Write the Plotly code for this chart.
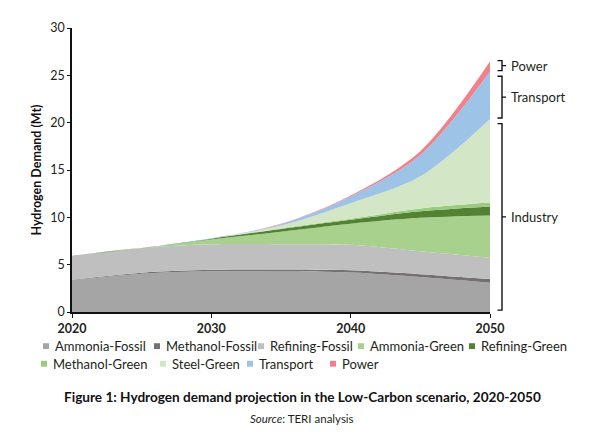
import plotly.graph_objects as go

# ---------------- data ----------------
years = [2020, 2025, 2030, 2035, 2040, 2045, 2050]
ammonia_fossil = [3.35, 4.05, 4.30, 4.28, 4.18, 3.70, 3.10]
methanol_fossil = [0.05, 0.10, 0.15, 0.20, 0.22, 0.30, 0.38]
refining_fossil = [2.55, 2.60, 2.70, 2.68, 2.70, 2.42, 2.25]
ammonia_green = [0.00, 0.00, 0.50, 1.32, 2.23, 3.53, 4.47]
refining_green = [0.00, 0.00, 0.10, 0.30, 0.42, 0.69, 0.95]
methanol_green = [0.00, 0.00, 0.00, 0.05, 0.10, 0.30, 0.41]
steel_green = [0.00, 0.00, 0.00, 0.30, 1.65, 3.40, 8.84]
transport = [0.00, 0.00, 0.03, 0.15, 0.70, 2.25, 5.00]
power = [0.00, 0.00, 0.00, 0.03, 0.10, 0.40, 1.05]

series_names = ["Ammonia-Fossil", "Methanol-Fossil", "Refining-Fossil", "Ammonia-Green",
                "Refining-Green", "Methanol-Green", "Steel-Green", "Transport", "Power"]
series_values = [ammonia_fossil, methanol_fossil, refining_fossil, ammonia_green,
                 refining_green, methanol_green, steel_green, transport, power]
series_colors = ["#A5A5A5", "#767171", "#BFBFBF", "#A9D18E", "#548235",
                 "#9ACB7E", "#D3E6C6", "#9DC3E6", "#F1808A"]

x_ticks = [2020, 2030, 2040, 2050]
y_ticks = [0, 5, 10, 15, 20, 25, 30]

bracket_labels = ["Power", "Transport", "Industry"]

FONT = "Lato, 'Open Sans', sans-serif"
TXT = "#231F20"

# ---------------- layout geometry ----------------
# the page body has an 8px margin, so the figure starts at (8, 8) in the window
OFF = 8
W, H = 600 - OFF, 437 - OFF
ML, MR, MT, MB = 72 - OFF, 110, 21 - OFF, 125
PW = W - ML - MR
PH = H - MT - MB
YMAX = 30


def px2x(px):
    """window pixel x -> paper x"""
    return (px - OFF - ML) / PW


def py2y(py):
    """window pixel y -> paper y"""
    return (H - MB - (py - OFF)) / PH


fig = go.Figure()
for name, vals, col in zip(series_names, series_values, series_colors):
    fig.add_trace(go.Scatter(
        x=years, y=vals, name=name, stackgroup="one", mode="lines",
        line=dict(width=0, shape="spline", smoothing=0.9, color=col),
        fillcolor=col, showlegend=False, hoverinfo="x+y+name"))

shapes = []
annotations = []

# ---------------- brackets on the right ----------------
industry_top = sum(v[-1] for v in series_values[:7])
transport_top = industry_top + transport[-1]
power_top = transport_top + power[-1]
ranges = [(transport_top + 0.1, power_top + 0.1),
          (industry_top + 0.1, transport_top - 0.5),
          (0.2, industry_top - 0.5)]
xl, xv, xr = px2x(497.5), px2x(502), px2x(506)
for label, (lo, hi) in zip(bracket_labels, ranges):
    y0, y1 = lo / YMAX, hi / YMAX
    ym = (y0 + y1) / 2
    path = (f"M {xl},{y1} L {xv},{y1} L {xv},{y0} L {xl},{y0} "
            f"M {xv},{ym} L {xr},{ym}")
    shapes.append(dict(type="path", path=path, xref="paper", yref="paper",
                       line=dict(color="#111111", width=1.4)))
    annotations.append(dict(text=label, x=px2x(509), y=ym, xref="paper", yref="paper",
                            xanchor="left", yanchor="middle", showarrow=False,
                            font=dict(family=FONT, size=13, color=TXT)))

# ---------------- legend (two rows) ----------------
legend_pos = [(46, 347), (157, 347), (261, 347), (361, 347), (472, 347),
              (44, 365), (163, 365), (250, 365), (333, 365)]
for name, col, (mx, my) in zip(series_names, series_colors, legend_pos):
    shapes.append(dict(type="rect", xref="paper", yref="paper",
                       x0=px2x(mx - 3), x1=px2x(mx + 3), y0=py2y(my + 3), y1=py2y(my - 3),
                       fillcolor=col, line=dict(width=0)))
    annotations.append(dict(text=name, x=px2x(mx + 7), y=py2y(my), xref="paper", yref="paper",
                            xanchor="left", yanchor="middle", showarrow=False,
                            font=dict(family=FONT, size=13, color=TXT)))

# ---------------- caption ----------------
annotations.append(dict(text="<b>Figure 1: Hydrogen demand projection in the Low-Carbon scenario, 2020-2050</b>",
                        x=px2x(302), y=py2y(399), xref="paper", yref="paper",
                        xanchor="center", yanchor="middle", showarrow=False,
                        font=dict(family=FONT, size=13.6, color="#111111")))
annotations.append(dict(text="<i>Source</i>: TERI analysis",
                        x=px2x(302), y=py2y(421), xref="paper", yref="paper",
                        xanchor="center", yanchor="middle", showarrow=False,
                        font=dict(family=FONT, size=11.5, color=TXT)))

fig.update_layout(
    width=W, height=H,
    margin=dict(l=ML, r=MR, t=MT, b=MB, pad=0),
    paper_bgcolor="white", plot_bgcolor="white",
    showlegend=False,
    font=dict(family=FONT, size=12.5, color=TXT),
    shapes=shapes, annotations=annotations,
    xaxis=dict(range=[2020, 2050], tickvals=x_ticks, ticktext=[f"<b>{t}</b>" for t in x_ticks],
               showgrid=False, zeroline=False, showline=True, linecolor="#111111", linewidth=1.5,
               ticks="outside", ticklen=4, tickwidth=1, tickcolor="#111111",
               tickfont=dict(family=FONT, size=12.5, color=TXT)),
    yaxis=dict(range=[0, YMAX], tickvals=y_ticks, showgrid=False, zeroline=False,
               showline=True, linecolor="#111111", linewidth=1.5,
               ticks="outside", ticklen=3, tickwidth=1, tickcolor="#111111",
               tickfont=dict(family=FONT, size=12.5, color=TXT),
               title=dict(text="<b>Hydrogen Demand (Mt)</b>", standoff=6,
                          font=dict(family=FONT, size=12.5, color="#111111"))),
)

fig.write_html("out.html")
